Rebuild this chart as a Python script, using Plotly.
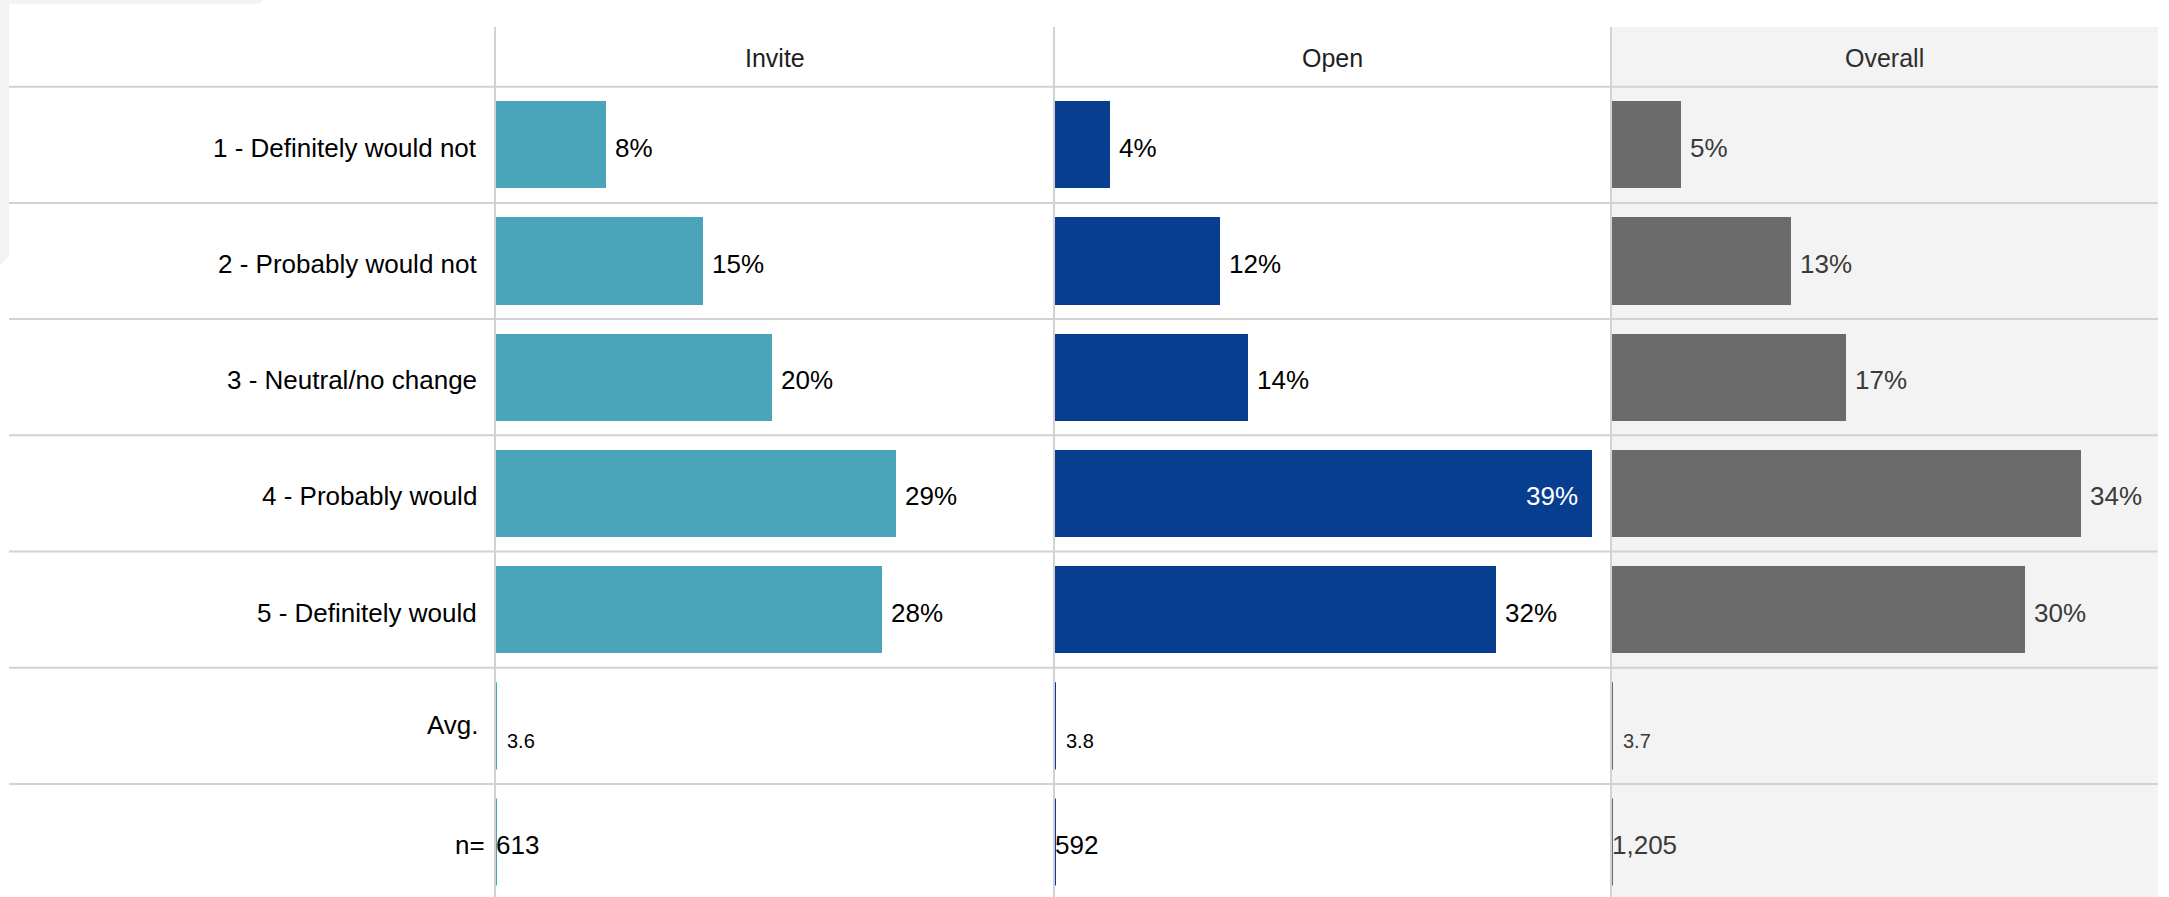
import plotly.graph_objects as go

# ---- data -------------------------------------------------------------
rows = [
    "1 - Definitely would not",
    "2 - Probably would not",
    "3 - Neutral/no change",
    "4 - Probably would",
    "5 - Definitely would",
]
summary_rows = ["Avg.", "n="]
groups = ["Invite", "Open", "Overall"]

invite = [8, 15, 20, 29, 28]
open_ = [4, 12, 14, 39, 32]
overall = [5, 13, 17, 34, 30]

averages = [3.6, 3.8, 3.7]
counts = [613, 592, 1205]

# ---- styling ------------------------------------------------------------
colors = ["#4aa5bb", "#083e8f", "#6b6b6b"]
value_colors = ["#000000", "#000000", "#3a3a3a"]
header_colors = ["#1e1e1e", "#1e1e1e", "#2e2e2e"]
grid_color = "#d2d2d2"
FONT = "Liberation Sans, Arial, sans-serif"

W, H = 2169, 897
col_edges = [495, 1054, 1611, 2158]   # column dividers (px)
px_per_pct = 13.78                    # bar scale, shared by all columns
row_pitch = 116.2
first_row_center = 144.8
header_top = 27.0
bar_w = 0.75
text_drop = -3                        # small downward nudge for row text

all_rows = rows + summary_rows


def fx(px):
    return px / W


def fy(px):
    return 1 - px / H


def row_units(px):
    return (px - first_row_center) / row_pitch


series = [invite, open_, overall]

fig = go.Figure()
layout_axes = {}
annotations = []
shapes = []

for k, (name, vals) in enumerate(zip(groups, series)):
    ax = "x" if k == 0 else f"x{k + 1}"
    axname = "xaxis" if k == 0 else f"xaxis{k + 1}"
    left, right = col_edges[k] + 1, col_edges[k + 1]
    xmax = (right - left) / px_per_pct
    layout_axes[axname] = dict(
        domain=[fx(left), fx(right)], range=[0, xmax], anchor="y",
        visible=False, fixedrange=True,
    )

    fig.add_trace(go.Bar(
        x=vals, y=rows, orientation="h", xaxis=ax, yaxis="y",
        marker=dict(color=colors[k], line=dict(width=0)),
        width=bar_w, hoverinfo="skip", showlegend=False,
    ))

    # value labels
    for v, r in zip(vals, rows):
        inside = v * px_per_pct + 55 > (right - left)
        annotations.append(dict(
            xref=ax, yref="y", x=v, y=r, text=f"{v}%", showarrow=False,
            xanchor="right" if inside else "left",
            xshift=-12 if inside else 7, yshift=text_drop,
            font=dict(family=FONT, size=26,
                      color="#ffffff" if inside else value_colors[k]),
        ))

    # header
    annotations.append(dict(
        xref="paper", yref="paper", x=fx((col_edges[k] + col_edges[k + 1]) / 2),
        y=fy((header_top + first_row_center - row_pitch / 2) / 2 + 1),
        text=name, showarrow=False, xanchor="center", yanchor="middle",
        font=dict(family=FONT, size=25, color=header_colors[k]),
    ))

    # thin markers for the summary rows
    for idx in (len(rows), len(rows) + 1):
        shapes.append(dict(
            type="line", xref=ax, yref="y", x0=0, x1=0,
            y0=idx - bar_w / 2, y1=idx + bar_w / 2,
            line=dict(color=colors[k], width=2), layer="above",
        ))

    # average value
    annotations.append(dict(
        xref=ax, yref="y", x=0, y="Avg.", text=f"{averages[k]:.1f}",
        showarrow=False, xanchor="left", xshift=9, yshift=-15,
        font=dict(family=FONT, size=20, color=value_colors[k]),
    ))
    # sample size
    annotations.append(dict(
        xref=ax, yref="y", x=0, y="n=", text=f"{counts[k]:,}",
        showarrow=False, xanchor="left", xshift=-2, yshift=text_drop,
        font=dict(family=FONT, size=26, color=value_colors[k]),
    ))

# row labels
label_right = {"Avg.": 481, "n=": 487}
label_drop = {"Avg.": 1}
for r in all_rows:
    annotations.append(dict(
        xref="paper", yref="y", x=fx(label_right.get(r, 479)), y=r, text=r,
        showarrow=False, xanchor="right", yanchor="middle",
        yshift=label_drop.get(r, text_drop),
        font=dict(family=FONT, size=26, color="#000000"),
    ))

# background of the Overall column
shapes.insert(0, dict(
    type="rect", xref="paper", yref="paper",
    x0=fx(col_edges[2]), x1=fx(col_edges[3]), y0=0, y1=fy(header_top),
    fillcolor="#f3f3f3", line=dict(width=0), layer="below",
))

# faint page edge strips in the top-left corner
shapes.insert(0, dict(
    type="path", xref="paper", yref="paper",
    path=(f"M 0 1 L {fx(263)} 1 L {fx(259)} {fy(4)} L {fx(9)} {fy(4)} "
          f"L {fx(9)} {fy(256)} L 0 {fy(265)} Z"),
    fillcolor="#f2f3f5", line=dict(width=0), layer="below",
))

# horizontal row separators
for i in range(-1, len(all_rows) - 1):
    shapes.append(dict(
        type="line", xref="paper", yref="y", x0=fx(9), x1=fx(col_edges[3]),
        y0=i + 0.5, y1=i + 0.5, line=dict(color=grid_color, width=2),
        layer="below",
    ))

# vertical column dividers
for e in col_edges[:3]:
    shapes.append(dict(
        type="line", xref="paper", yref="paper", x0=fx(e), x1=fx(e),
        y0=0, y1=fy(header_top), line=dict(color=grid_color, width=2),
        layer="below",
    ))

fig.update_layout(
    width=W, height=H,
    margin=dict(l=0, r=0, t=0, b=0, pad=0),
    paper_bgcolor="#ffffff", plot_bgcolor="rgba(0,0,0,0)",
    yaxis=dict(
        type="category", categoryorder="array", categoryarray=all_rows,
        range=[row_units(H), row_units(0)], domain=[0, 1],
        visible=False, fixedrange=True,
    ),
    bargap=0, showlegend=False,
    annotations=annotations, shapes=shapes,
    **layout_axes,
)

fig.write_html("out.html")
